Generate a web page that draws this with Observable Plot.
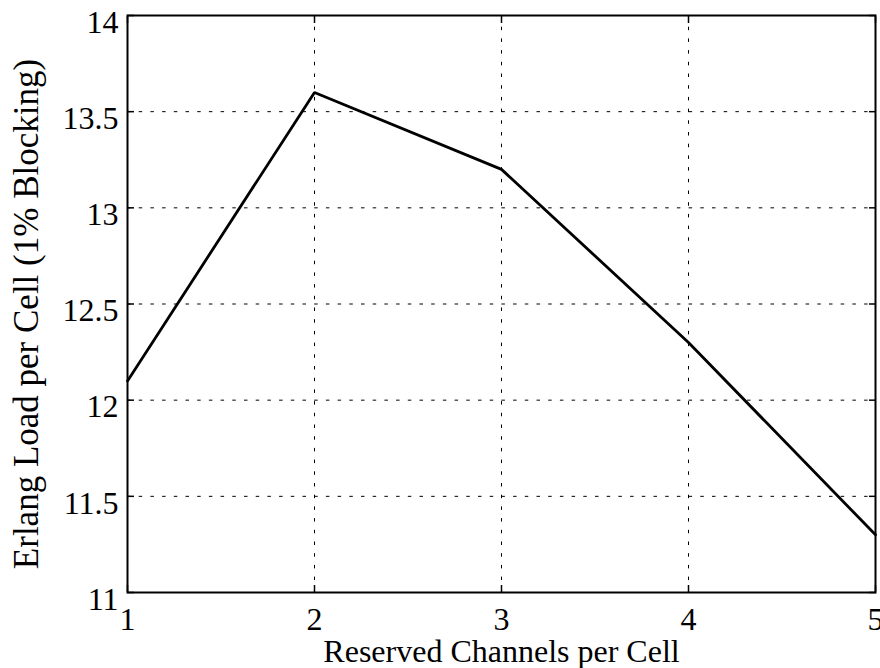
<!DOCTYPE html>
<html>
<head>
<meta charset="utf-8">
<script src="https://cdn.jsdelivr.net/npm/d3@7"></script>
<script src="https://cdn.jsdelivr.net/npm/@observablehq/plot@0.6"></script>
<style>
  html, body { margin: 0; padding: 0; background: #fff; }
</style>
</head>
<body>
<div id="chart"></div>
<script>
const reservedChannels = [1, 2, 3, 4, 5];
const erlangLoad = [12.1, 13.6, 13.2, 12.3, 11.3];
const xTicks = [1, 2, 3, 4, 5];
const yTicks = [11, 11.5, 12, 12.5, 13, 13.5, 14];
const xLabel = "Reserved Channels per Cell";
const yLabel = "Erlang Load per Cell (1% Blocking)";

const data = reservedChannels.map((x, i) => ({x, y: erlangLoad[i]}));

const dash = "3.5,8.2";

const chart = Plot.plot({
  width: 880,
  height: 668,
  marginLeft: 127,
  marginRight: 5,
  marginTop: 15,
  marginBottom: 76,
  style: {fontFamily: "'Liberation Serif', 'Times New Roman', serif", fontSize: "32px", background: "#fff", color: "#000"},
  x: {domain: [1, 5], ticks: xTicks},
  y: {domain: [11, 14], ticks: yTicks},
  marks: [
    Plot.gridX(xTicks, {stroke: "#000", strokeOpacity: 1, strokeWidth: 1, strokeDasharray: dash}),
    Plot.gridY(yTicks, {stroke: "#000", strokeOpacity: 1, strokeWidth: 1, strokeDasharray: dash}),
    Plot.axisX(xTicks, {anchor: "bottom", tickSize: -7, fill: "none", label: null, stroke: "#000", strokeWidth: 1.5}),
    Plot.axisX(xTicks, {anchor: "top", tickSize: -7, fill: "none", label: null, stroke: "#000", strokeWidth: 1.5}),
    Plot.axisY(yTicks, {anchor: "left", tickSize: -7, fill: "none", label: null, stroke: "#000", strokeWidth: 1.5}),
    Plot.axisY(yTicks, {anchor: "right", tickSize: -7, fill: "none", label: null, stroke: "#000", strokeWidth: 1.5}),
    Plot.axisX(xTicks, {anchor: "bottom", tickSize: 0, tickPadding: 15, label: null, fill: "#000", tickFormat: d => String(d)}),
    Plot.axisY(yTicks, {anchor: "left", tickSize: 0, tickPadding: 9, dy: 7, label: null, fill: "#000", tickFormat: d => String(d)}),
    Plot.frame({stroke: "#000", strokeWidth: 2}),
    Plot.line(data, {x: "x", y: "y", stroke: "#000", strokeWidth: 2.8, strokeLinejoin: "miter"}),
    Plot.text([xLabel], {text: d => d, frameAnchor: "bottom", textAnchor: "middle", lineAnchor: "top", dy: 47, fill: "#000"}),
    Plot.text([yLabel], {text: d => d, frameAnchor: "left", textAnchor: "middle", rotate: -90, lineAnchor: "middle", dx: -101, dy: 10, fontSize: 35, fill: "#000"})
  ]
});
document.getElementById("chart").appendChild(chart);
</script>
</body>
</html>
